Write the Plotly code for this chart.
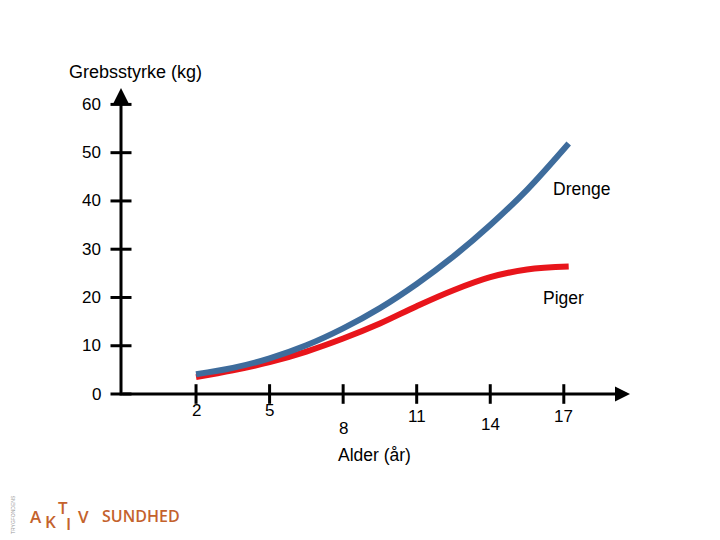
import plotly.graph_objects as go

# data
ages = [2, 3.5, 5, 6.5, 8, 9.5, 11, 12.5, 14, 15.5, 17.2]
drenge = [4.1, 5.4, 7.4, 10.1, 13.6, 17.8, 22.8, 28.5, 35.0, 42.3, 51.9]
piger = [3.5, 4.9, 6.6, 8.8, 11.5, 14.6, 18.2, 21.5, 24.2, 25.8, 26.4]

x_ticks = [2, 5, 8, 11, 14, 17]
y_ticks = [0, 10, 20, 30, 40, 50, 60]

# staggered label drops (px) as in the original slide
x_label_drop = [16, 16, 34, 22, 30, 22]

X0, X1 = -1.06, 19.7
Y0, Y1 = 0, 63.4
FONT = "Liberation Sans, Arial, sans-serif"

# page has an 8px body margin, so the figure sits at (8, 8)
OFF = 8
W, H = 720 - OFF, 540 - OFF


def px(x):
    return (x - OFF) / W


def py(y):
    return 1 - (y - OFF) / H


fig = go.Figure()

fig.add_trace(go.Scatter(x=ages, y=piger, mode="lines", cliponaxis=False,
                         line=dict(color="#E8151B", width=6, shape="spline", smoothing=1)))
fig.add_trace(go.Scatter(x=ages, y=drenge, mode="lines", cliponaxis=False,
                         line=dict(color="#3E6C9C", width=6, shape="spline", smoothing=1)))

# crossing tick marks
fig.add_trace(go.Scatter(x=[X0] * len(y_ticks), y=y_ticks, mode="markers", cliponaxis=False,
                         marker=dict(symbol="line-ew", size=15, line=dict(color="black", width=3))))
fig.add_trace(go.Scatter(x=x_ticks, y=[0] * len(x_ticks), mode="markers", cliponaxis=False,
                         marker=dict(symbol="line-ns", size=14, line=dict(color="black", width=3))))

ann = []
# axes with arrows
ann.append(dict(x=X1, y=0, ax=X0, ay=0, axref="x", ayref="y", xref="x", yref="y", text="",
                showarrow=True, arrowhead=2, arrowsize=1, arrowwidth=3, arrowcolor="black"))
ann.append(dict(x=X0, y=Y1, ax=X0, ay=-0.6, axref="x", ayref="y", xref="x", yref="y", text="",
                showarrow=True, arrowhead=2, arrowsize=1, arrowwidth=3, arrowcolor="black"))

for v in y_ticks:
    ann.append(dict(x=X0, y=v, xref="x", yref="y", text=str(v), showarrow=False,
                    xanchor="right", yanchor="middle", xshift=-18, font=dict(size=17, color="black", family=FONT)))
for v, d in zip(x_ticks, x_label_drop):
    ann.append(dict(x=v, y=0, xref="x", yref="y", text=str(v), showarrow=False,
                    xanchor="center", yanchor="middle", yshift=-d, font=dict(size=17, color="black", family=FONT)))


def label(text, x, y, anchor="left", size=17.5, color="black", family=FONT, angle=0, weight=400):
    ann.append(dict(x=px(x), y=py(y), xref="paper", yref="paper", text=text, showarrow=False, textangle=angle,
                    xanchor=anchor, yanchor="middle",
                    font=dict(size=size, color=color, family=family, weight=weight)))


label("Grebsstyrke (kg)", 67, 72, size=18)
label("Alder (år)", 374, 455, anchor="center")
label("Drenge", 551, 189)
label("Piger", 541, 298)

# logo
LOGO = "#C4622D"
for ch, x, y in [("A", 36, 516), ("K", 50, 521), ("T", 63, 507), ("I", 68, 523), ("V", 83, 516)]:
    label(ch, x, y, anchor="center", size=17, color=LOGO, family="Open Sans", weight=600)
label("SUNDHED", 100, 516, size=16, color=LOGO, family="Open Sans", weight=600)
label("TRYGFONDENS", 13, 515, anchor="center", size=5, color="#999999", angle=-90)

fig.update_layout(
    width=W, height=H,
    margin=dict(l=0, r=0, t=0, b=0),
    paper_bgcolor="white", plot_bgcolor="white",
    showlegend=False,
    annotations=ann,
    xaxis=dict(range=[X0, X1], domain=[px(121), px(630)], visible=False),
    yaxis=dict(range=[Y0, Y1], domain=[py(394), py(88)], visible=False),
)

fig.write_html("out.html")
